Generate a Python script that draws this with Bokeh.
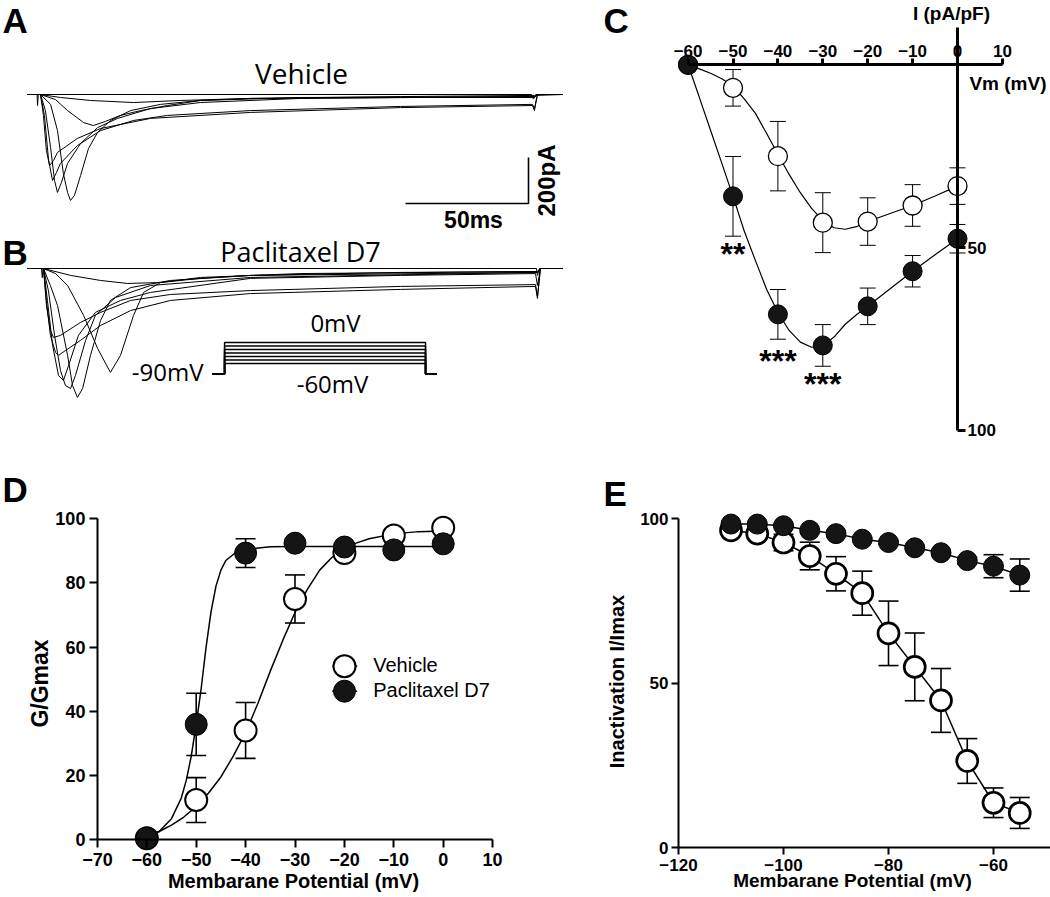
import math
from bokeh.plotting import figure
from bokeh.layouts import row, column
from bokeh.models import Range1d, LinearAxis, FixedTicker, Whisker, TeeHead, ColumnDataSource
from bokeh.core.properties import value
from bokeh.embed import file_html
from bokeh.resources import INLINE

# ===================== DATA =====================
# Panel A - Vehicle current traces (time in ms, current in pA)
veh_trace_t = [
    [-5.3, -1.4, -1.2, -0.9, 0, 199.6, 200.4, 201.5, 212.2],
    [-5.3, 0, 8.1, 20.3, 37.8, 56.9, 85.4, 146.3, 200.8, 201.6, 212.2],
    [-5.3, 0, 6.1, 11.0, 17.5, 21.5, 26.4, 32.5, 40.7, 51.6, 65.0, 85.4, 146.3, 200.8, 202.0, 212.2],
    [-5.3, 0, 4.1, 6.9, 9.3, 11.0, 12.2, 13.8, 16.3, 19.5, 23.2, 28.5, 36.6, 48.8, 65.0, 105.7, 200.8, 202.0, 212.2],
    [-5.3, 0, 2.0, 4.1, 5.7, 6.9, 8.5, 11.0, 16.3, 23.2, 31.3, 44.7, 65.0, 105.7, 200.8, 202.0, 212.2],
    [-5.3, 0, 1.6, 3.3, 4.9, 6.5, 8.1, 15.0, 24.4, 37.8, 51.6, 85.4, 146.3, 200.0, 200.8, 202.0, 212.2],
    [-5.3, 0, 1.2, 2.4, 3.7, 5.3, 6.9, 15.0, 24.4, 44.7, 85.4, 146.3, 200.0, 200.8, 202.0, 212.2],
]
veh_trace_i = [
    [0, 0, -48, 0, 0, 0, -20, 0, 0],
    [0, 0, -13, -26, -35, -26, -17, -13, -13, -4, 0],
    [0, 0, -22, -70, -122, -135, -117, -91, -70, -48, -26, -17, -9, -4, 0, 0],
    [0, 0, -43, -157, -344, -426, -461, -439, -352, -235, -165, -113, -70, -43, -26, -13, -9, 0, 0],
    [0, 0, -70, -231, -374, -426, -383, -300, -213, -144, -104, -61, -35, -17, -9, 0, 0],
    [0, 0, -91, -287, -374, -339, -300, -222, -157, -113, -91, -70, -52, -43, -61, 0, 0],
    [0, 0, -91, -244, -309, -287, -252, -191, -148, -104, -78, -57, -48, -70, 0, 0],
]

# Panel B - Paclitaxel D7 current traces (time in ms, current in pA)
pac_trace_t = [
    [-6.5, -0.8, -0.5, -0.2, 0, 200.4, 200.8, 201.6, 211.0],
    [-6.5, 0, 11.0, 23.2, 34.1, 47.6, 63.8, 84.1, 145.1, 200.8, 202.0, 211.0],
    [-6.5, 0, 4.9, 9.8, 16.3, 22.0, 27.2, 31.3, 36.6, 40.7, 47.6, 63.8, 104.5, 200.8, 202.0, 211.0],
    [-6.5, 0, 2.8, 5.7, 9.8, 11.8, 13.8, 15.9, 19.1, 23.2, 27.2, 35.4, 51.6, 84.1, 200.8, 202.0, 211.0],
    [-6.5, 0, 2.0, 4.5, 6.9, 8.9, 11.0, 13.0, 17.1, 21.1, 29.3, 43.5, 84.1, 200.8, 202.0, 211.0],
    [-6.5, 0, 1.6, 3.7, 6.1, 8.1, 10.2, 14.2, 21.1, 31.3, 43.5, 84.1, 145.1, 200.0, 200.8, 202.0, 211.0],
    [-6.5, 0, 1.2, 2.8, 4.9, 6.1, 8.9, 15.0, 23.2, 35.4, 51.6, 84.1, 145.1, 200.0, 200.8, 202.0, 211.0],
    [-6.5, 0, 1.2, 2.8, 4.1, 6.9, 15.0, 23.2, 35.4, 51.6, 84.1, 145.1, 200.0, 200.8, 202.0, 211.0],
]
pac_trace_i = [
    [0, 0, -40, 0, 0, 0, -30, 0, 0],
    [0, 0, -30, -52, -65, -61, -43, -30, -17, -13, 0, 0],
    [0, 0, -22, -74, -204, -348, -452, -378, -204, -104, -61, -39, -22, -13, 0, 0],
    [0, 0, -74, -161, -378, -509, -561, -522, -378, -226, -139, -83, -52, -30, -17, 0, 0],
    [0, 0, -96, -291, -444, -509, -522, -465, -313, -204, -126, -74, -39, -17, 0, 0],
    [0, 0, -139, -335, -465, -487, -422, -291, -191, -139, -104, -43, -30, -22, -74, 0, 0],
    [0, 0, -139, -291, -365, -378, -357, -313, -248, -183, -139, -109, -91, -78, -130, 0, 0],
    [0, 0, -161, -270, -300, -291, -235, -191, -139, -113, -96, -78, -70, -122, 0, 0],
]

# Voltage protocol (schematic inset in panel B)
protocol_steps_mv = [-60, -50, -40, -30, -20, -10, 0]
protocol_hold_mv = -90
protocol_t = [68.7, 73.6, 155.3, 159.8]   # start, step on, step off, end (ms)

# Scale bar
scale_ms = 50
scale_pa = 200

# Panel C - I-V relation (current density pA/pF, plotted downward)
iv_v = [-60, -50, -40, -30, -20, -10, 0]
iv_veh = [0, 6.3, 25.0, 43.2, 42.9, 38.5, 33.2]
iv_veh_err = [0, 5.0, 9.5, 8.2, 6.5, 5.7, 5.0]
iv_pac = [0, 36.0, 68.3, 76.8, 66.1, 56.5, 47.6]
iv_pac_err = [0, 10.9, 6.8, 5.7, 5.0, 4.3, 3.9]
iv_fit_v = [-60, -57.5, -55, -52.5, -50, -47.5, -45, -42.5, -40, -37.5, -35, -32.5, -30,
            -27.5, -25, -22.5, -20, -15, -10, -5, 0]
iv_fit_veh = [0, 1.1, 2.3, 3.8, 5.8, 9.3, 13.3, 18.8, 24.5, 30.0, 35.0, 39.3, 42.6,
              44.6, 45.0, 44.3, 42.9, 40.7, 38.5, 35.9, 33.2]
iv_fit_pac = [0, 8.9, 17.9, 26.9, 36.0, 45.5, 53.6, 61.5, 67.8, 72.7, 75.9, 77.3, 76.9,
              74.5, 71.0, 68.4, 66.1, 61.3, 56.5, 52.0, 47.6]
iv_stars = ["**", "***", "***"]
iv_star_v = [-50, -40, -30]

# Panel D - activation G/Gmax
act_v = [-60, -50, -40, -30, -20, -10, 0]
act_veh = [0.4, 12.3, 34.0, 75.0, 89.3, 94.8, 97.2]
act_veh_err = [0, 7.0, 8.7, 7.5, 0, 0, 0]
act_pac = [0.4, 35.9, 89.3, 92.4, 91.2, 90.3, 92.2]
act_pac_err = [0, 9.7, 4.5, 0, 0, 0, 0]
act_fit_veh_v = [-60, -57.5, -55, -52.5, -50, -47.5, -45, -42.5, -40, -37.5, -35, -32.5, -30,
                 -27.5, -25, -22.5, -20, -17.5, -15, -10, -5, 0]
act_fit_veh = [1.0, 2.5, 4.5, 7.0, 10.3, 14.5, 19.5, 26.0, 33.3, 42.5, 52.5, 62.0, 70.8,
               78.0, 84.0, 88.0, 90.8, 92.5, 93.8, 95.3, 96.0, 96.2]
act_fit_pac_v = [-60, -57.5, -55, -53, -52, -51, -50, -49, -48, -47, -46, -45, -44, -42, -40,
                 -35, -30, -20, -10, 0]
act_fit_pac = [0.5, 2.5, 6.5, 13.0, 18.5, 26.0, 36.0, 47.0, 60.0, 71.0, 79.0, 84.0, 87.0,
               89.5, 90.5, 91.3, 91.4, 91.4, 91.4, 91.4]

# Panel E - steady-state inactivation I/Imax
inact_v = [-110, -105, -100, -95, -90, -85, -80, -75, -70, -65, -60, -55]
inact_veh = [96.4, 95.4, 92.7, 88.6, 83.2, 77.3, 65.1, 54.9, 44.7, 26.3, 13.6, 10.5]
inact_veh_err = [1.0, 1.5, 2.5, 4.2, 5.2, 6.7, 9.8, 10.3, 9.7, 6.8, 4.5, 4.7]
inact_pac = [98.3, 98.3, 97.8, 96.4, 95.4, 93.7, 92.7, 91.1, 89.6, 87.2, 85.5, 82.8]
inact_pac_err = [0.5, 0.5, 0.5, 0.5, 0.5, 0.5, 0.5, 0.5, 0.5, 1.0, 3.5, 4.9]

# ===================== HELPERS =====================
BOLD = "Liberation Sans"
MYR = "Open Sans"
INK = "black"
DARK = "#151515"


def tA(X): return (X - 40) / 2.46
def iA(Y): return -(Y - 94) * 4.35
def tB(X): return (X - 43) / 2.46
def iB(Y): return -(Y - 268) * 4.35
def vB(Y): return -(Y - 342) / 0.35
def vC(X): return (X - 957) / 4.49
def iC(Y): return (Y - 64.3) / 3.654
def vD(X): return (X - 442.7) / 4.94
def gD(Y): return (839 - Y) / 3.207
def vE(X): return -120 + (X - 678) / 5.25
def iE(Y): return (847 - Y) / 3.29


def make_fig(w, h, xr, yr):
    p = figure(width=w, height=h, x_range=Range1d(*xr), y_range=Range1d(*yr),
               output_backend="svg", toolbar_location=None, min_border=0,
               x_axis_location=None, y_axis_location=None)
    p.outline_line_color = None
    p.grid.visible = False
    p.background_fill_color = "white"
    p.border_fill_color = "white"
    return p


def txt(p, x, y, s, size, font=BOLD, style="bold", align="left", baseline="middle",
        angle=0.0, **kw):
    p.text(x=[x], y=[y], text=[s], text_font=value(font), text_font_size=size,
           text_font_style=style, text_align=align, text_baseline=baseline,
           angle=angle, text_color=INK, **kw)


def style_axis(ax, size, lw, tick_out, standoff, tick_in=0):
    ax.axis_line_width = lw
    ax.axis_line_color = INK
    ax.major_tick_line_width = lw
    ax.major_tick_line_color = INK
    ax.major_tick_out = tick_out
    ax.major_tick_in = tick_in
    ax.minor_tick_line_color = None
    ax.major_label_text_font = BOLD
    ax.major_label_text_font_style = "bold"
    ax.major_label_text_font_size = size
    ax.major_label_text_color = INK
    ax.major_label_standoff = standoff


def errbars(p, xs, ys, es, head, lw):
    src = ColumnDataSource(dict(x=xs, lo=[y - e for y, e in zip(ys, es)],
                                hi=[y + e for y, e in zip(ys, es)]))
    w = Whisker(base="x", lower="lo", upper="hi", source=src, line_width=lw, line_color=INK,
                upper_head=TeeHead(size=head, line_width=lw, line_color=INK),
                lower_head=TeeHead(size=head, line_width=lw, line_color=INK))
    p.add_layout(w)


# ===================== PANEL A =====================
pA = make_fig(598, 233, (tA(0), tA(598)), (iA(233), iA(0)))
pA.multi_line(xs=veh_trace_t, ys=veh_trace_i, line_color=INK, line_width=1)
sb_t0, sb_i0 = tA(405), iA(203)
pA.line(x=[sb_t0, sb_t0 + scale_ms, sb_t0 + scale_ms], y=[sb_i0, sb_i0, sb_i0 + scale_pa],
        line_color=INK, line_width=1.6)
txt(pA, tA(2), iA(20), "A", "35px")
txt(pA, tA(301), iA(72.5), "Vehicle", "28px", font=MYR, style="normal", align="center")
txt(pA, tA(473), iA(219), "50ms", "23px", align="center")
txt(pA, tA(545.5), iA(180), "200pA", "24px", align="center", angle=math.pi / 2)

# ===================== PANEL B =====================
pB = make_fig(598, 225, (tB(0), tB(598)), (iB(458), iB(233)))
pB.extra_y_ranges = {"mv": Range1d(vB(458), vB(233))}
pB.multi_line(xs=pac_trace_t, ys=pac_trace_i, line_color=INK, line_width=1)
pxs = [[protocol_t[0], protocol_t[1], protocol_t[1], protocol_t[2], protocol_t[2], protocol_t[3]]
       for _ in protocol_steps_mv]
pys = [[protocol_hold_mv, protocol_hold_mv, v, v, protocol_hold_mv, protocol_hold_mv]
       for v in protocol_steps_mv]
pB.multi_line(xs=pxs, ys=pys, line_color=INK, line_width=1.4, y_range_name="mv")
txt(pB, tB(2), iB(252), "B", "35px")
txt(pB, tB(300), iB(250.5), "Paclitaxel D7", "27px", font=MYR, style="normal", align="center")
txt(pB, tB(335), iB(322), "0mV", "24px", font=MYR, style="normal", align="center")
txt(pB, tB(332), iB(383), "-60mV", "24px", font=MYR, style="normal", align="center")
txt(pB, tB(203), iB(371), "-90mV", "24px", font=MYR, style="normal", align="right")

# ===================== PANEL C =====================
pC = make_fig(452, 458, (vC(598), vC(1050)), (iC(458), iC(0)))
xaC = LinearAxis(fixed_location=0, bounds=(-60, 10), ticker=FixedTicker(ticks=[-60, -50, -40, -30, -20, -10, 0, 10]))
style_axis(xaC, "17px", 3, 0, -20, tick_in=6)
pC.add_layout(xaC, "below")
yaC = LinearAxis(fixed_location=0, bounds=(-10.2, 100), ticker=FixedTicker(ticks=[50, 100]))
style_axis(yaC, "17px", 3, 8, 2)
pC.add_layout(yaC, "right")
errbars(pC, iv_v, iv_veh, iv_veh_err, 16, 1)
errbars(pC, iv_v, iv_pac, iv_pac_err, 16, 1)
pC.line(iv_fit_v, iv_fit_veh, line_color=INK, line_width=1.2)
pC.line(iv_fit_v, iv_fit_pac, line_color=INK, line_width=1.2)
pC.scatter(iv_v, iv_veh, marker="circle", size=19, fill_color="white", line_color=INK, line_width=1.3)
pC.scatter(iv_v, iv_pac, marker="circle", size=19, fill_color=DARK, line_color=INK, line_width=1)
star_y = [iC(253), iC(360), iC(383)]
for s, v, y in zip(iv_stars, iv_star_v, star_y):
    txt(pC, v, y, s, "32px", align="center")
txt(pC, vC(603), iC(20), "C", "35px")
txt(pC, vC(951), iC(12.5), "I (pA/pF)", "19px", align="center")
txt(pC, vC(1046), iC(83), "Vm (mV)", "19px", align="right")

# ===================== PANEL D =====================
pD = make_fig(520, 439, (vD(0), vD(520)), (gD(897), gD(458)))
xaD = LinearAxis(fixed_location=0, bounds=(-70, 10), ticker=FixedTicker(ticks=list(range(-70, 11, 10))))
style_axis(xaD, "18px", 2, 8, 5)
pD.add_layout(xaD, "below")
yaD = LinearAxis(fixed_location=-70, bounds=(0, 100), ticker=FixedTicker(ticks=list(range(0, 101, 20))))
style_axis(yaD, "18px", 2, 8, 4)
pD.add_layout(yaD, "left")
errbars(pD, act_v, act_veh, act_veh_err, 20, 1.6)
errbars(pD, act_v, act_pac, act_pac_err, 20, 1.6)
pD.line(act_fit_veh_v, act_fit_veh, line_color=INK, line_width=1.5)
pD.line(act_fit_pac_v, act_fit_pac, line_color=INK, line_width=1.5)
pD.scatter(act_v, act_veh, marker="circle", size=22, fill_color="white", line_color=INK, line_width=2)
pD.scatter(act_v, act_pac, marker="circle", size=22, fill_color=DARK, line_color=INK, line_width=1)
# legend
lg_x0, lg_x1, lg_xm, lg_xt = vD(331.7), vD(356.7), vD(344), vD(372.7)
lg_y = [gD(665.7), gD(690.7)]
pD.segment(x0=[lg_x0, lg_x0], y0=lg_y, x1=[lg_x1, lg_x1], y1=lg_y, line_color=INK, line_width=1.5)
pD.scatter([lg_xm], [lg_y[0]], marker="circle", size=22, fill_color="white", line_color=INK, line_width=2)
pD.scatter([lg_xm], [lg_y[1]], marker="circle", size=22, fill_color=DARK, line_color=INK, line_width=1)
txt(pD, lg_xt, gD(664.5), "Vehicle", "20px", style="normal")
txt(pD, lg_xt, gD(689.5), "Paclitaxel D7", "20px", style="normal")
txt(pD, vD(2), gD(489), "D", "35px")
txt(pD, vD(293), gD(880), "Membarane Potential (mV)", "20px", align="center")
txt(pD, vD(39.5), gD(683), "G/Gmax", "23px", align="center", angle=math.pi / 2)

# ===================== PANEL E =====================
pE = make_fig(530, 439, (vE(520), vE(1050)), (iE(897), iE(458)))
xaE = LinearAxis(fixed_location=0, bounds=(-120, vE(1050)), ticker=FixedTicker(ticks=[-120, -100, -80, -60]))
style_axis(xaE, "17px", 2, 7, 4)
pE.add_layout(xaE, "below")
yaE = LinearAxis(fixed_location=-120, bounds=(0, 100), ticker=FixedTicker(ticks=[0, 50, 100]))
style_axis(yaE, "17px", 2, 7, 3)
pE.add_layout(yaE, "left")
errbars(pE, inact_v, inact_veh, inact_veh_err, 20, 1.6)
errbars(pE, inact_v, inact_pac, inact_pac_err, 20, 1.6)
pE.line(inact_v, inact_veh, line_color=INK, line_width=1.5)
pE.line(inact_v, inact_pac, line_color=INK, line_width=1.5)
pE.scatter(inact_v, inact_veh, marker="circle", size=21, fill_color="white", line_color=INK, line_width=2.7)
pE.scatter(inact_v, inact_pac, marker="circle", size=20, fill_color=DARK, line_color=INK, line_width=1)
txt(pE, vE(603), iE(493), "E", "35px")
txt(pE, vE(852), iE(880), "Membarane Potential (mV)", "19px", align="center")
txt(pE, vE(616), iE(681), "Inactivation I/Imax", "20px", align="center", angle=math.pi / 2)

layout = column(row(column(pA, pB), pC), row(pD, pE))
open("out.html", "w").write(file_html(layout, INLINE))
